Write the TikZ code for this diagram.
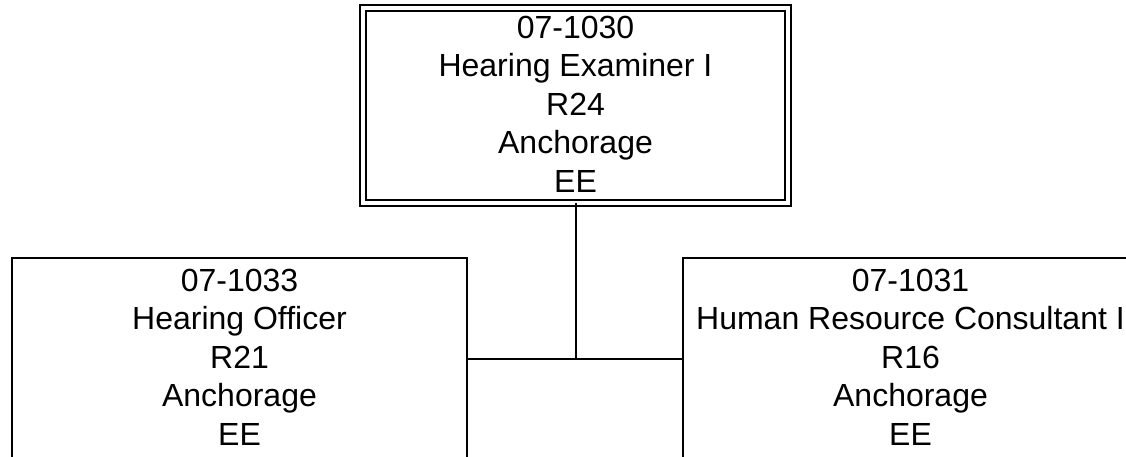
\documentclass[tikz,border=0pt]{standalone}
\usepackage{fontspec}
\setmainfont{Liberation Sans}
\begin{document}
\begin{tikzpicture}[x=1pt,y=1pt,
  boxline/.style={draw=black, line width=2pt, outer sep=0pt, inner sep=0pt, rectangle},
  dblbox/.style={boxline, double=white, double distance=4pt},
  txt/.style={align=center, inner sep=0pt, anchor=north, font=\fontsize{32}{38.5}\selectfont},
  conn/.style={draw=black, line width=2pt}]
\useasboundingbox (0,0) rectangle (1126,-457);
\clip (0,0) rectangle (1126,-457);
\fill[white] (0,0) rectangle (1126,-457);
% top box
\node[dblbox, minimum width=425pt, minimum height=194.5pt] (top) at (575.5,-105.25) {};
\node[txt] (toptxt) at (575.5,-15.5) {07-1030\\Hearing Examiner I\\R24\\Anchorage\\EE};
% left box
\node[boxline, anchor=north west, minimum width=455pt, minimum height=260pt] (lbox) at (12,-258) {};
\node[txt] (ltxt) at (239.5,-268.5) {07-1033\\Hearing Officer\\R21\\Anchorage\\EE};
% right box
\node[boxline, anchor=north west, minimum width=455pt, minimum height=260pt] (rbox) at (683,-258) {};
\node[txt] (rtxt) at (910.5,-268.5) {07-1031\\Human Resource Consultant I\\R16\\Anchorage\\EE};
% connectors
\coordinate (j) at (575.5,-359);
\draw[conn] (top.south) -- (j);
\draw[conn] (lbox.east |- j) -- (rbox.west |- j);
\end{tikzpicture}
\end{document}
